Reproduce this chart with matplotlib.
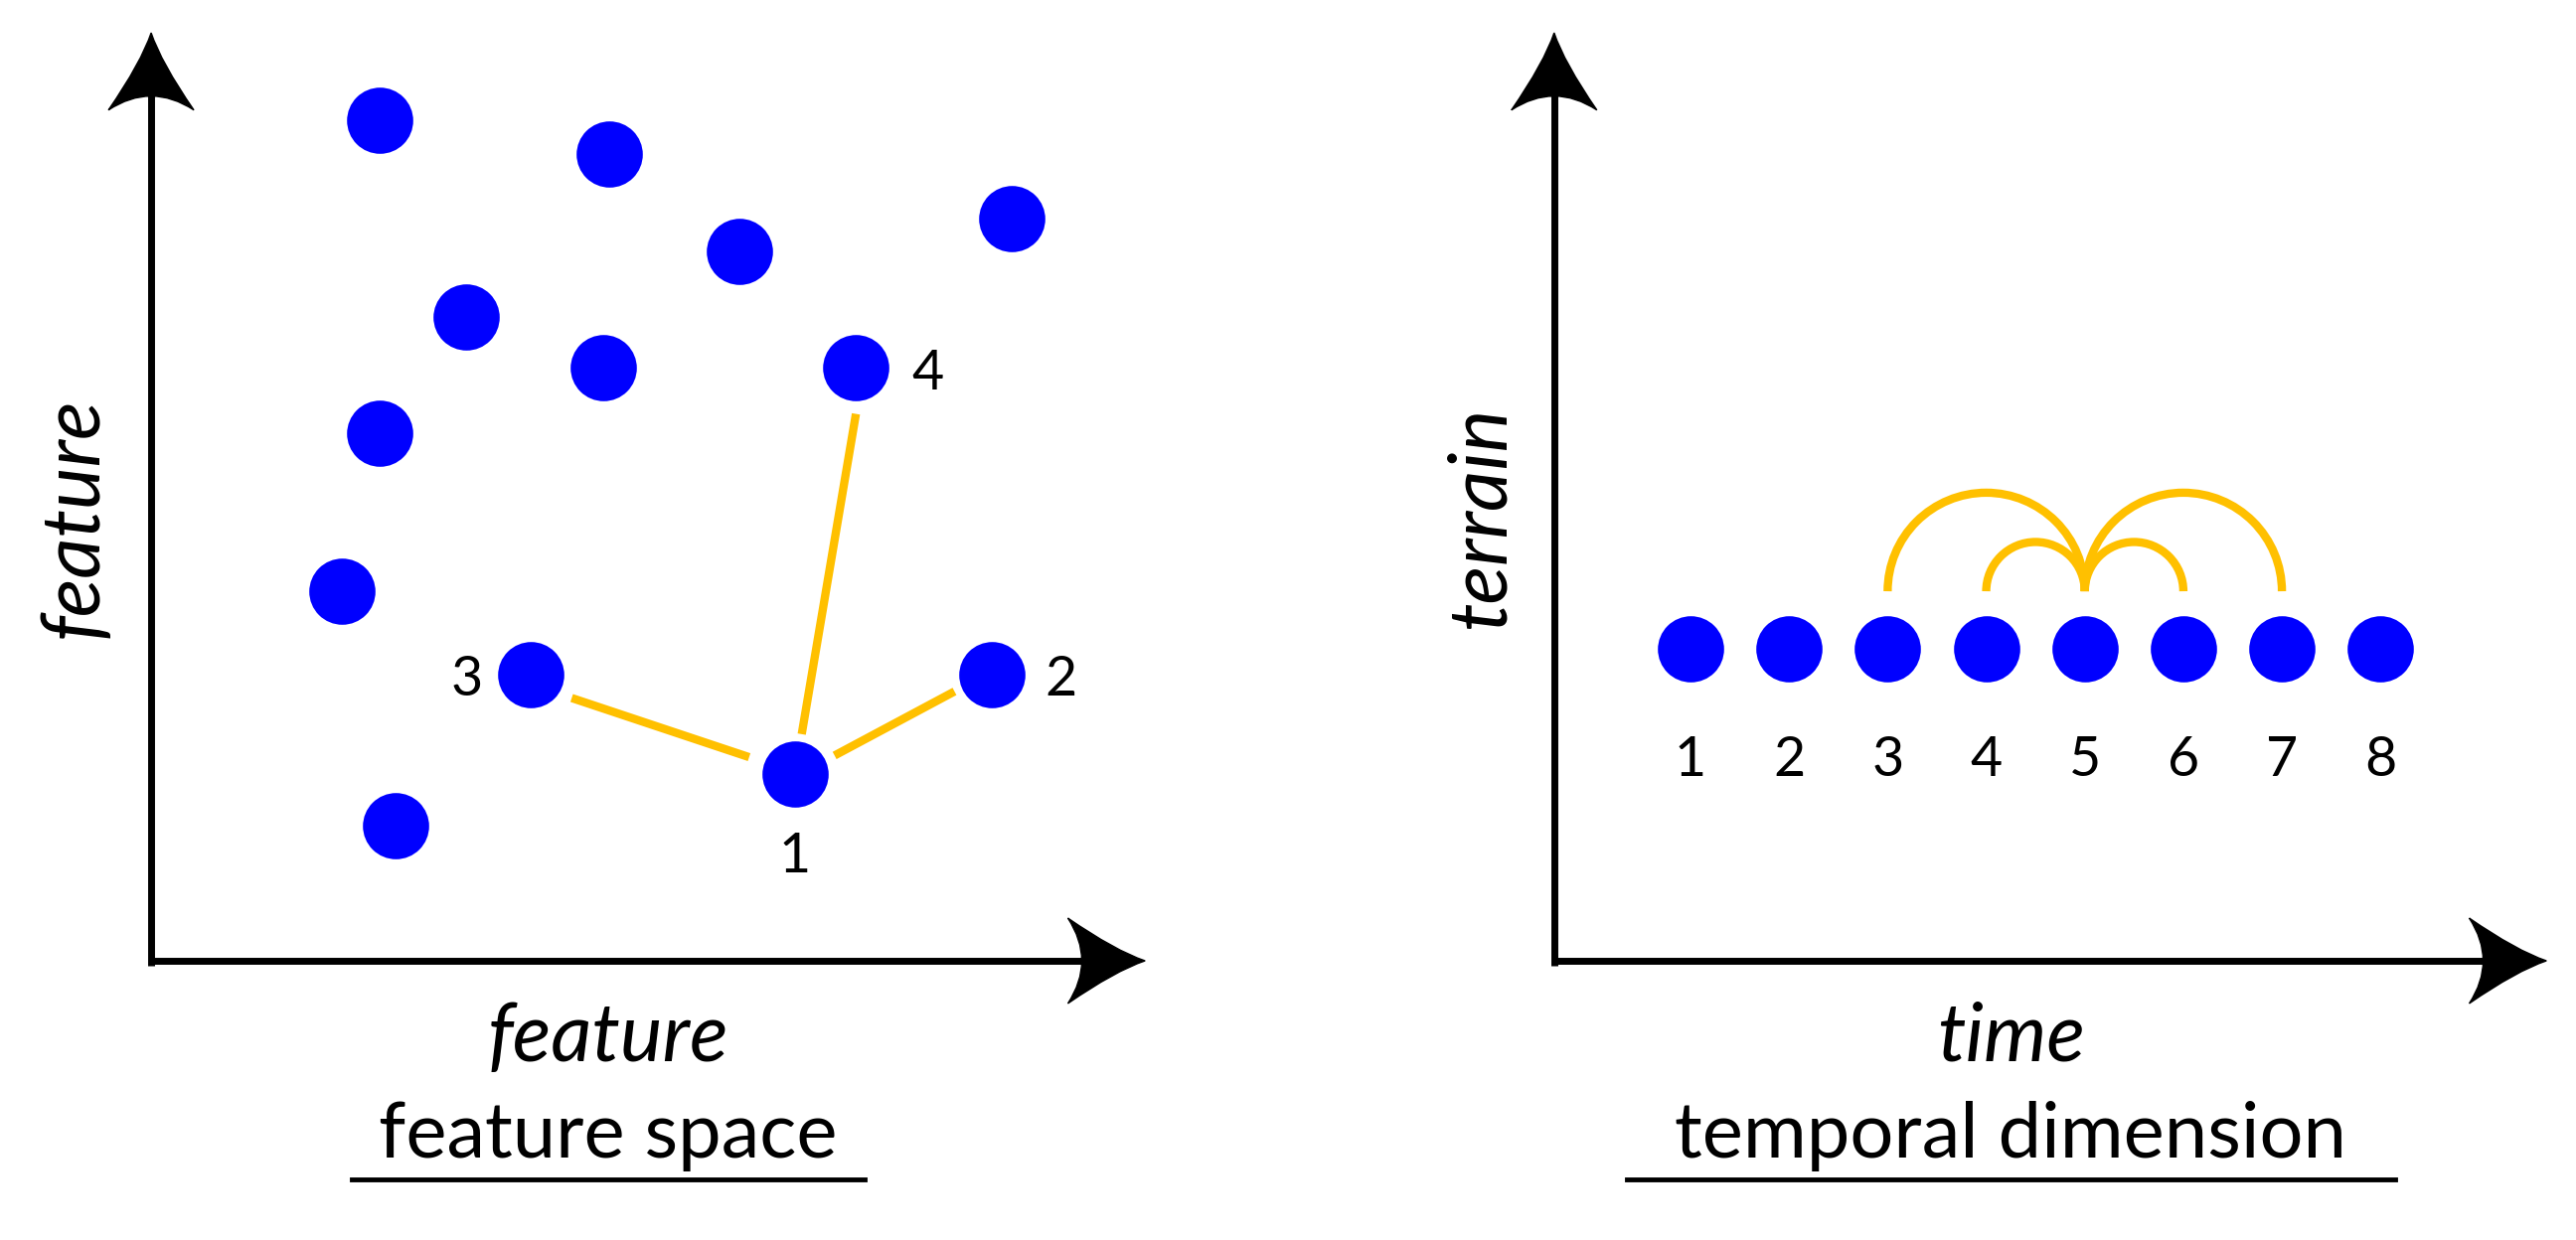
import matplotlib
matplotlib.use("Agg")
import matplotlib.pyplot as plt
import numpy as np
from matplotlib.path import Path
from matplotlib.patches import PathPatch, Arc

plt.rcParams['font.family'] = ['Lato', 'DejaVu Sans']

# feature space points (canvas units)
fs_x = [231, 371, 450, 616, 284, 367, 521, 231, 208, 323, 604, 484, 241]
fs_y = [73, 94, 153, 133, 193, 224, 224, 264, 360, 411, 411, 471, 503]
fs_labels = {"1": (484, 522), "2": (646, 414), "3": (284, 414), "4": (565, 228)}
fs_links = [((348, 425), (456, 461)), ((508, 460), (581, 421)), ((488, 447), (521, 252))]

# temporal points
t_x = [1029, 1089, 1149, 1209, 1269, 1329, 1389, 1449]
t_y = 395
t_labels = ["1", "2", "3", "4", "5", "6", "7", "8"]
arcs = [(1209, 120), (1239, 60), (1299, 60), (1329, 120)]  # (center x, width)

BLUE = "#0000FF"
GOLD = "#FFC000"

fig = plt.figure(figsize=(25.92, 12.48), dpi=100)
ax = fig.add_axes([0, 0, 1, 1])
ax.set_xlim(0, 1568)
ax.set_ylim(755, 0)
ax.axis("off")

def arrowhead(tipx, tipy, direction):
    L, W, notch = 47, 26, 36
    if direction == 'right':
        pts = [(tipx - L, tipy - W), (tipx - 18, tipy - 6), (tipx, tipy),
               (tipx - 18, tipy + 6), (tipx - L, tipy + W),
               (tipx - notch + 6, tipy), (tipx - L, tipy - W)]
    else:
        pts = [(tipx - W, tipy + L), (tipx - 6, tipy + 18), (tipx, tipy),
               (tipx + 6, tipy + 18), (tipx + W, tipy + L),
               (tipx, tipy + notch - 6), (tipx - W, tipy + L)]
    codes = [Path.MOVETO, Path.CURVE3, Path.CURVE3, Path.CURVE3, Path.CURVE3,
             Path.CURVE3, Path.CURVE3]
    ax.add_patch(PathPatch(Path(pts, codes), fc="black", ec="black", lw=1, zorder=3))

def axes_frame(ox, oy, xend, ytop):
    ax.plot([ox, xend - 30], [oy, oy], color="black", lw=5, solid_capstyle="butt")
    ax.plot([ox, ox], [oy + 3, ytop + 30], color="black", lw=5, solid_capstyle="butt")
    arrowhead(xend, oy, 'right')
    arrowhead(ox, ytop, 'up')

axes_frame(92, 585, 697, 20)
axes_frame(946, 585, 1550, 20)

for (a, b) in fs_links:
    ax.plot([a[0], b[0]], [a[1], b[1]], color=GOLD, lw=6, solid_capstyle="butt", zorder=2)
ax.scatter(fs_x, fs_y, s=2300, color=BLUE, zorder=4, linewidths=0)
for k, (x, y) in fs_labels.items():
    ax.text(x, y, k, fontsize=40, ha="center", va="center")

for cx, w in arcs:
    ax.add_patch(Arc((cx, 360), w, w, theta1=180, theta2=360, color=GOLD, lw=6, zorder=2))
ax.scatter(t_x, [t_y] * len(t_x), s=2300, color=BLUE, zorder=4, linewidths=0)
for x, lab in zip(t_x, t_labels):
    ax.text(x, 463, lab, fontsize=40, ha="center", va="center")

ax.text(370, 632, "feature", fontsize=58, style="italic", ha="center", va="center")
ax.text(45, 315, "feature", fontsize=58, style="italic", ha="center", va="center", rotation=90)
ax.text(1224, 632, "time", fontsize=58, style="italic", ha="center", va="center")
ax.text(902, 315, "terrain", fontsize=58, style="italic", ha="center", va="center", rotation=90)

ax.text(370, 692, "feature space", fontsize=56, ha="center", va="center")
ax.plot([214, 526], [718, 718], color="black", lw=3.5)
ax.text(1224, 692, "temporal dimension", fontsize=56, ha="center", va="center")
ax.plot([990, 1458], [718, 718], color="black", lw=3.5)

fig.savefig("out.png", dpi=100)
